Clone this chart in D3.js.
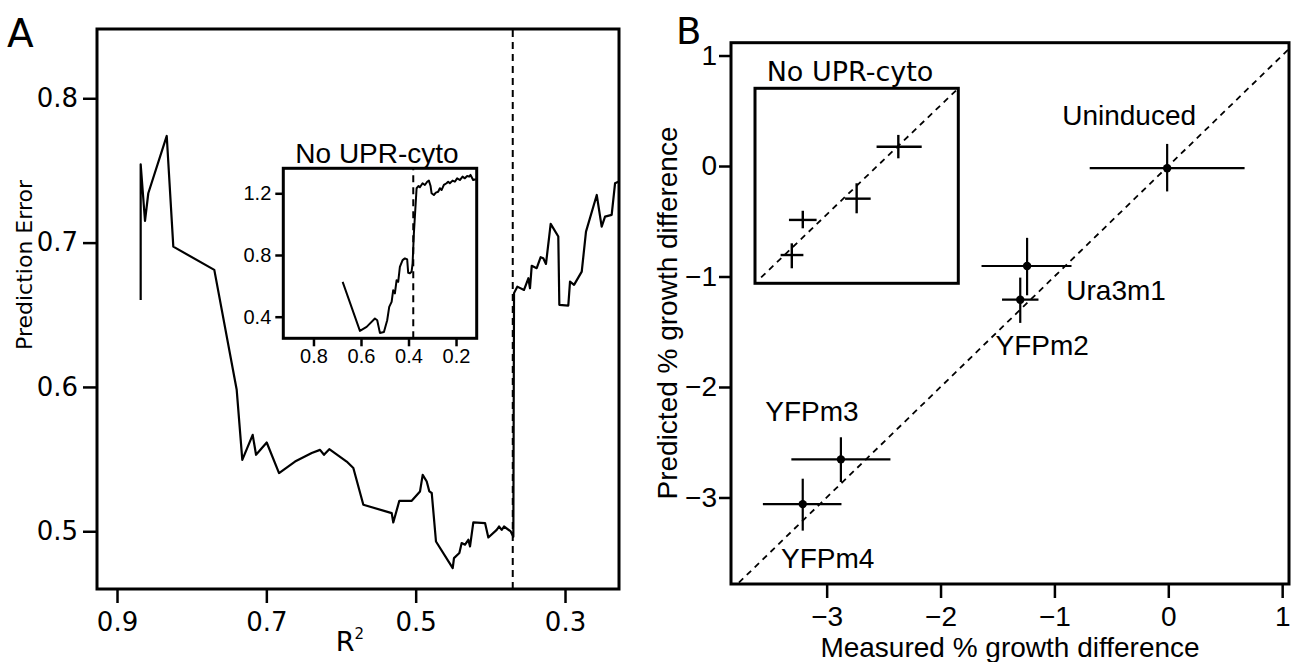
<!DOCTYPE html>
<html>
<head>
<meta charset="utf-8">
<script src="https://cdn.jsdelivr.net/npm/d3@7"></script>
<style>
  body { margin: 0; background: #fff; }
  .axis path.domain { display: none; }
  .axis line { stroke: #000; stroke-width: 2.5; }
</style>
</head>
<body>
<div id="chart"></div>
<script>
// panel A: prediction error as the R^2 cutoff is lowered
const mainR2 = [0.8683,0.8683,0.8625,0.8581,0.8334,0.8246,0.7697,0.7397,0.7322,0.7183,
  0.7138,0.6995,0.6830,0.6616,0.6392,0.6281,0.6228,0.6157,0.5924,0.5835,
  0.5701,0.5321,0.5300,0.5219,0.5053,0.4942,0.4906,0.4852,0.4817,0.4785,
  0.4728,0.4504,0.4487,0.4415,0.4384,0.4339,0.4295,0.4272,0.4228,0.4071,
  0.4027,0.3915,0.3884,0.3848,0.3817,0.3727,0.3692,0.3683,0.3639,0.3549,
  0.3491,0.3469,0.3446,0.3379,0.3326,0.3291,0.3255,0.3192,0.3090,0.3076,
  0.2956,0.2933,0.2879,0.2776,0.2719,0.2575,0.2509,0.2464,0.2375,0.2330,0.2286];
const mainErr = [0.6603,0.7543,0.7150,0.7342,0.7739,0.6972,0.6811,0.5980,0.5495,0.5668,
  0.5530,0.5615,0.5403,0.5483,0.5542,0.5564,0.5530,0.5569,0.5483,0.5438,
  0.5184,0.5126,0.5061,0.5211,0.5211,0.5276,0.5391,0.5345,0.5276,0.5265,
  0.4929,0.4745,0.4814,0.4849,0.4918,0.4907,0.4941,0.4895,0.5061,0.5057,
  0.4957,0.5010,0.5033,0.5010,0.5033,0.4999,0.4962,0.6650,0.6695,0.6672,
  0.6753,0.6684,0.6839,0.6823,0.6899,0.6892,0.6852,0.7130,0.7042,0.6569,
  0.6564,0.6730,0.6707,0.6799,0.7076,0.7330,0.7111,0.7180,0.7192,0.7411,0.7422];
const mainCutoff = 0.37;
const aXTicks = [0.9, 0.7, 0.5, 0.3];
const aYTicks = [0.5, 0.6, 0.7, 0.8];

// inset of A (No UPR-cyto)
const insetR2 = [0.6772,0.6045,0.5763,0.5414,0.5317,0.5204,0.5035,0.4897,0.4812,0.4711,
  0.4644,0.4573,0.4501,0.4434,0.4363,0.4249,0.4152,0.4056,0.4013,0.3942,
  0.3871,0.3828,0.3774,0.3660,0.3576,0.3521,0.3408,0.3311,0.3214,0.3143,
  0.3071,0.3029,0.2933,0.2849,0.2752,0.2680,0.2609,0.2512,0.2399,0.2331,
  0.2260,0.2146,0.2050,0.1953,0.1839,0.1726,0.1629,0.1532,0.1448,0.1389,0.1280,0.1167];
const insetErr = [0.626,0.308,0.334,0.388,0.377,0.295,0.301,0.377,0.464,0.496,
  0.572,0.551,0.637,0.626,0.723,0.767,0.778,0.771,0.684,0.681,
  0.691,0.746,0.940,1.233,1.247,1.239,1.265,1.254,1.275,1.282,
  1.247,1.200,1.189,1.204,1.210,1.233,1.221,1.254,1.265,1.275,
  1.265,1.282,1.275,1.297,1.286,1.308,1.297,1.312,1.308,1.319,1.286,1.291];
const insetCutoff = 0.38;
const insetXTicks = [0.8, 0.6, 0.4, 0.2];
const insetYTicks = [0.4, 0.8, 1.2];

// panel B: measured vs predicted growth difference
const strains = ["Uninduced", "Ura3m1", "YFPm2", "YFPm3", "YFPm4"];
const measured = [-0.01, -1.24, -1.30, -2.875, -3.21];
const measuredLo = [-0.69, -1.64, -1.46, -3.31, -3.56];
const measuredHi = [0.67, -0.85, -1.14, -2.44, -2.87];
const predicted = [-0.02, -0.905, -1.21, -2.655, -3.06];
const predictedLo = [-0.23, -1.17, -1.42, -2.86, -3.30];
const predictedHi = [0.20, -0.65, -1.01, -2.455, -2.83];
const bXTicks = [-3, -2, -1, 0, 1];
const bYTicks = [-3, -2, -1, 0, 1];

// inset of B (No UPR-cyto), no axes so scaled 0..1
const noUprMeasured = [0.705, 0.500, 0.235, 0.181];
const noUprMeasuredLo = [0.598, 0.443, 0.167, 0.126];
const noUprMeasuredHi = [0.820, 0.569, 0.303, 0.238];
const noUprPredicted = [0.700, 0.434, 0.325, 0.145];
const noUprPredictedLo = [0.641, 0.359, 0.282, 0.077];
const noUprPredictedHi = [0.761, 0.513, 0.372, 0.205];

const width = 1294;
const height = 662;
const sansA = "DejaVu Sans, sans-serif";
const sansB = "Liberation Sans, Arial, sans-serif";
const minus = d => d < 0 ? "\u2212" + Math.abs(d) : String(d);

const svg = d3.select("#chart")
    .append("svg")
    .attr("width", width)
    .attr("height", height)
    .style("display", "block");

svg.append("rect").attr("width", width).attr("height", height).attr("fill", "#fff");

function box(x0, y0, x1, y1, sw) {
    svg.append("rect")
        .attr("x", x0).attr("y", y0)
        .attr("width", x1 - x0).attr("height", y1 - y0)
        .attr("fill", "none").attr("stroke", "#000").attr("stroke-width", sw);
}

function styleTicks(g, font, size) {
    g.attr("class", "axis");
    g.selectAll("text").attr("fill", "#000").style("font-family", font).style("font-size", size + "px");
}

// ---------- panel A ----------
const xA = d3.scaleLinear().domain([0.9268, 0.2277]).range([97, 619]);
const yA = d3.scaleLinear().domain([0.46, 0.848]).range([589, 29]);

svg.append("g")
    .attr("transform", "translate(0,589)")
    .call(d3.axisBottom(xA).tickValues(aXTicks).tickSize(14).tickPadding(10).tickFormat(d3.format(".1f")))
    .call(g => styleTicks(g, sansA, 26));

svg.append("g")
    .attr("transform", "translate(97,0)")
    .call(d3.axisLeft(yA).tickValues(aYTicks).tickSize(14).tickPadding(5).tickFormat(d3.format(".1f")))
    .call(g => styleTicks(g, sansA, 26));

svg.append("line")
    .attr("x1", xA(mainCutoff)).attr("x2", xA(mainCutoff))
    .attr("y1", yA.range()[0]).attr("y2", yA.range()[1])
    .attr("stroke", "#000").attr("stroke-width", 2).attr("stroke-dasharray", "7,5");

const lineA = d3.line().x(i => xA(mainR2[i])).y(i => yA(mainErr[i]));
svg.append("path")
    .attr("d", lineA(d3.range(mainR2.length)))
    .attr("fill", "none").attr("stroke", "#000").attr("stroke-width", 2.2)
    .attr("stroke-linejoin", "round");

box(97, 29, 619, 589, 3);

svg.append("text")
    .attr("x", 350).attr("y", 651)
    .attr("text-anchor", "middle")
    .style("font-family", sansA).style("font-size", "27px")
    .text("R")
    .append("tspan").attr("dy", -12).style("font-size", "15px").text("2");

svg.append("text")
    .attr("transform", "translate(32,265) rotate(-90)")
    .attr("text-anchor", "middle")
    .style("font-family", sansA).style("font-size", "22px")
    .text("Prediction Error");

// inset A
const xI = d3.scaleLinear().domain([0.927, 0.113]).range([283.3, 476.7]);
const yI = d3.scaleLinear().domain([0.26, 1.362]).range([338.3, 168.3]);

svg.append("rect")
    .attr("x", 283.3).attr("y", 168.3).attr("width", 193.4).attr("height", 170)
    .attr("fill", "#fff");

svg.append("g")
    .attr("transform", "translate(0,338.3)")
    .call(d3.axisBottom(xI).tickValues(insetXTicks).tickSize(8).tickPadding(3).tickFormat(d3.format(".1f")))
    .call(g => styleTicks(g, sansB, 20));

svg.append("g")
    .attr("transform", "translate(283.3,0)")
    .call(d3.axisLeft(yI).tickValues(insetYTicks).tickSize(8).tickPadding(4).tickFormat(d3.format(".1f")))
    .call(g => styleTicks(g, sansB, 20));

svg.append("line")
    .attr("x1", xI(insetCutoff)).attr("x2", xI(insetCutoff))
    .attr("y1", yI.range()[0]).attr("y2", yI.range()[1])
    .attr("stroke", "#000").attr("stroke-width", 2).attr("stroke-dasharray", "7,5");

const lineI = d3.line().x(i => xI(insetR2[i])).y(i => yI(insetErr[i]));
svg.append("path")
    .attr("d", lineI(d3.range(insetR2.length)))
    .attr("fill", "none").attr("stroke", "#000").attr("stroke-width", 2)
    .attr("stroke-linejoin", "round");

box(283.3, 168.3, 476.7, 338.3, 3);

svg.append("text")
    .attr("x", 377).attr("y", 163)
    .attr("text-anchor", "middle")
    .style("font-family", sansB).style("font-size", "28px")
    .text("No UPR-cyto");

svg.append("text")
    .attr("x", 7).attr("y", 47)
    .style("font-family", sansA).style("font-size", "39px")
    .text("A");

// ---------- panel B ----------
const xB = d3.scaleLinear().domain([-3.84, 1.06]).range([731, 1289]);
const yB = d3.scaleLinear().domain([-3.783, 1.116]).range([584, 42.7]);

svg.append("g")
    .attr("transform", "translate(0,584)")
    .call(d3.axisBottom(xB).tickValues(bXTicks).tickSize(14).tickPadding(8).tickFormat(minus))
    .call(g => styleTicks(g, sansB, 28));

svg.append("g")
    .attr("transform", "translate(731,0)")
    .call(d3.axisLeft(yB).tickValues(bYTicks).tickSize(12).tickPadding(2).tickFormat(minus))
    .call(g => styleTicks(g, sansB, 28));

svg.append("clipPath").attr("id", "clipB")
    .append("rect").attr("x", 731).attr("y", 42.7).attr("width", 558).attr("height", 541.3);

svg.append("line")
    .attr("clip-path", "url(#clipB)")
    .attr("x1", xB(-3.84)).attr("y1", yB(-3.84))
    .attr("x2", xB(1.116)).attr("y2", yB(1.116))
    .attr("stroke", "#000").attr("stroke-width", 1.8).attr("stroke-dasharray", "6,5");

const gB = svg.append("g");
gB.selectAll("line.hbar").data(strains).enter().append("line")
    .attr("x1", (d, i) => xB(measuredLo[i])).attr("x2", (d, i) => xB(measuredHi[i]))
    .attr("y1", (d, i) => yB(predicted[i])).attr("y2", (d, i) => yB(predicted[i]))
    .attr("stroke", "#000").attr("stroke-width", 2.2);
gB.selectAll("line.vbar").data(strains).enter().append("line")
    .attr("x1", (d, i) => xB(measured[i])).attr("x2", (d, i) => xB(measured[i]))
    .attr("y1", (d, i) => yB(predictedLo[i])).attr("y2", (d, i) => yB(predictedHi[i]))
    .attr("stroke", "#000").attr("stroke-width", 2.2);
gB.selectAll("circle").data(strains).enter().append("circle")
    .attr("cx", (d, i) => xB(measured[i])).attr("cy", (d, i) => yB(predicted[i]))
    .attr("r", 4.2).attr("fill", "#000");

// label offsets in pixels from each point
const labelDx = [-38, 89, 22, -29, 25];
const labelDy = [-43, 34, 55, -38, 64];
gB.selectAll("text").data(strains).enter().append("text")
    .attr("x", (d, i) => xB(measured[i]) + labelDx[i])
    .attr("y", (d, i) => yB(predicted[i]) + labelDy[i])
    .attr("text-anchor", "middle")
    .style("font-family", sansB).style("font-size", "28px")
    .text(d => d);

// inset B
const xJ = d3.scaleLinear().domain([0, 1]).range([755, 958.3]);
const yJ = d3.scaleLinear().domain([0, 1]).range([283.3, 88.3]);

svg.append("line")
    .attr("x1", xJ(0.03)).attr("y1", yJ(0.03))
    .attr("x2", xJ(0.995)).attr("y2", yJ(0.995))
    .attr("stroke", "#000").attr("stroke-width", 1.8).attr("stroke-dasharray", "6,5");

svg.selectAll("line.hJ").data(noUprMeasured).enter().append("line")
    .attr("x1", (d, i) => xJ(noUprMeasuredLo[i])).attr("x2", (d, i) => xJ(noUprMeasuredHi[i]))
    .attr("y1", (d, i) => yJ(noUprPredicted[i])).attr("y2", (d, i) => yJ(noUprPredicted[i]))
    .attr("stroke", "#000").attr("stroke-width", 2.4);
svg.selectAll("line.vJ").data(noUprMeasured).enter().append("line")
    .attr("x1", d => xJ(d)).attr("x2", d => xJ(d))
    .attr("y1", (d, i) => yJ(noUprPredictedLo[i])).attr("y2", (d, i) => yJ(noUprPredictedHi[i]))
    .attr("stroke", "#000").attr("stroke-width", 2.4);

box(755, 88.3, 958.3, 283.3, 3);

svg.append("text")
    .attr("x", 850).attr("y", 81)
    .attr("text-anchor", "middle")
    .style("font-family", sansA).style("font-size", "27px")
    .text("No UPR-cyto");

box(731, 42.7, 1289, 584, 3);

svg.append("text")
    .attr("x", 1010).attr("y", 657)
    .attr("text-anchor", "middle")
    .style("font-family", sansB).style("font-size", "28px")
    .text("Measured % growth difference");

svg.append("text")
    .attr("transform", "translate(677,313) rotate(-90)")
    .attr("text-anchor", "middle")
    .style("font-family", sansB).style("font-size", "28px")
    .text("Predicted % growth difference");

svg.append("text")
    .attr("x", 676).attr("y", 44)
    .style("font-family", sansA).style("font-size", "37px")
    .text("B");
</script>
</body>
</html>
